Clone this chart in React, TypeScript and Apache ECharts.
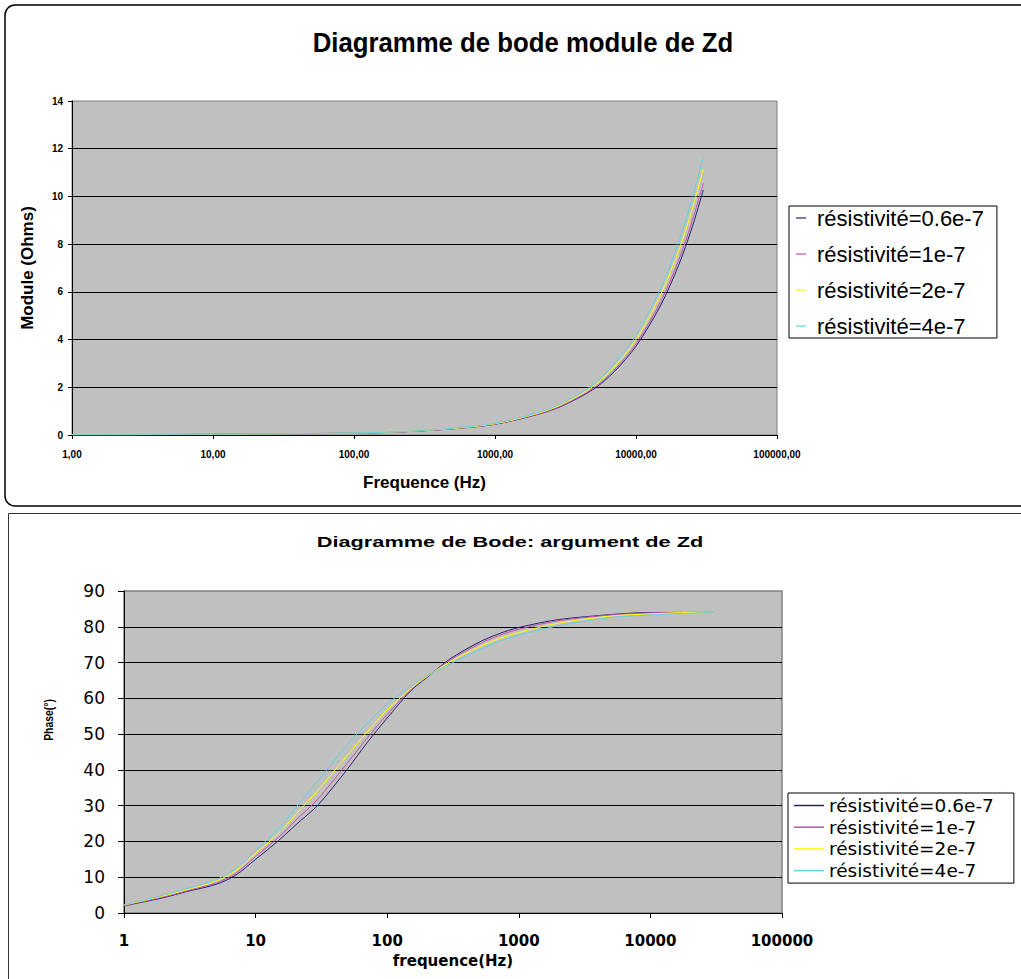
import React, { useEffect, useRef } from 'react';
import * as echarts from 'echarts';

const SERIES_NAMES = ['résistivité=0.6e-7', 'résistivité=1e-7', 'résistivité=2e-7', 'résistivité=4e-7'];
const COLORS = ['#22227a', '#c84fa8', '#ffff00', '#66d0e0'];

// Module |Zd| (Ohms) vs frequency (Hz)
const MOD_FREQ = [1, 2, 5, 10, 20, 50, 100, 200, 500, 1000, 2000, 3000, 5000, 7000, 10000, 15000, 20000, 25000, 30000];
const MOD_R06 = [0.01, 0.01, 0.02, 0.03, 0.04, 0.06, 0.08, 0.12, 0.26, 0.45, 0.86, 1.22, 1.92, 2.65, 3.72, 5.45, 7.1, 8.7, 10.27];
const MOD_R1 = [0.01, 0.01, 0.02, 0.03, 0.04, 0.06, 0.08, 0.12, 0.26, 0.46, 0.87, 1.24, 1.96, 2.72, 3.82, 5.6, 7.3, 8.95, 10.55];
const MOD_R2 = [0.01, 0.01, 0.02, 0.03, 0.04, 0.06, 0.08, 0.13, 0.27, 0.47, 0.9, 1.29, 2.05, 2.85, 4.0, 5.9, 7.7, 9.45, 11.15];
const MOD_R4 = [0.01, 0.01, 0.02, 0.03, 0.04, 0.06, 0.09, 0.13, 0.28, 0.49, 0.93, 1.33, 2.12, 2.97, 4.17, 6.15, 8.05, 9.9, 11.65];

// Phase (deg) vs frequency (Hz)
const PHASE_FREQ = [1, 2, 3, 5, 7, 10, 15, 20, 30, 50, 70, 100, 150, 200, 300, 500, 700, 1000, 2000, 5000, 10000, 20000, 30000];
const PHASE_R06 = [2.0, 4.3, 6.0, 8.0, 10.5, 15.0, 20.3, 24.5, 30.3, 40.3, 47.5, 54.5, 62.0, 65.8, 71.0, 75.7, 78.0, 79.8, 82.0, 83.4, 84.0, 84.0, 84.0];
const PHASE_R1 = [2.1, 4.5, 6.2, 8.4, 11.0, 15.8, 21.2, 25.8, 32.0, 42.0, 48.8, 55.5, 62.3, 66.0, 70.7, 75.2, 77.5, 79.3, 81.7, 83.3, 83.9, 84.0, 84.0];
const PHASE_R2 = [2.2, 4.8, 6.5, 8.9, 11.7, 16.7, 22.3, 27.4, 34.4, 44.2, 50.5, 56.8, 62.6, 66.1, 70.2, 74.4, 76.6, 78.4, 81.0, 83.0, 83.6, 84.0, 84.0];
const PHASE_R4 = [2.3, 5.0, 6.8, 9.3, 12.3, 17.5, 23.7, 29.3, 37.1, 47.1, 52.9, 58.4, 63.3, 66.3, 69.6, 73.5, 75.8, 77.6, 80.3, 82.6, 83.3, 83.8, 84.0];

const MOD_SETS = [MOD_R06, MOD_R1, MOD_R2, MOD_R4];
const PHASE_SETS = [PHASE_R06, PHASE_R1, PHASE_R2, PHASE_R4];

const TOP_TITLE = 'Diagramme de bode module de Zd';
const BOTTOM_TITLE = 'Diagramme de Bode: argument de Zd';

const ARIAL = 'Liberation Sans, Arial, sans-serif';
const WIDE = 'DejaVu Sans, Verdana, sans-serif';

export default function App() {
  const ref = useRef<HTMLDivElement>(null);

  useEffect(() => {
    if (!ref.current) return;
    const chart = echarts.init(ref.current, undefined, { renderer: 'svg' });

    const pair = (xs: number[], ys: number[]) => xs.map((x, i) => [x, ys[i]]);

    const series: any[] = [];
    SERIES_NAMES.forEach((name, i) => {
      series.push({
        name,
        type: 'line',
        xAxisIndex: 0,
        yAxisIndex: 0,
        data: pair(MOD_FREQ, MOD_SETS[i]),
        showSymbol: false,
        smooth: 0.3,
        color: COLORS[i],
        lineStyle: { width: 1, color: COLORS[i] },
      });
    });
    SERIES_NAMES.forEach((name, i) => {
      series.push({
        name,
        type: 'line',
        xAxisIndex: 1,
        yAxisIndex: 1,
        data: pair(PHASE_FREQ, PHASE_SETS[i]),
        showSymbol: false,
        smooth: 0.3,
        color: COLORS[i],
        lineStyle: { width: 1, color: COLORS[i] },
      });
    });

    const option: any = {
      animation: false,
      backgroundColor: '#ffffff',
      graphic: [
        {
          type: 'rect',
          silent: true,
          shape: { x: 5, y: 5, width: 1040, height: 501, r: 10 },
          style: { fill: 'none', stroke: '#000', lineWidth: 1.5 },
        },
        {
          type: 'rect',
          silent: true,
          shape: { x: 8.5, y: 513.5, width: 1040, height: 500 },
          style: { fill: 'none', stroke: '#333', lineWidth: 1 },
        },
        {
          type: 'text',
          silent: true,
          x: 523,
          y: 43,
          scaleX: 0.92,
          style: {
            text: TOP_TITLE,
            fill: '#000',
            font: `bold 28px ${ARIAL}`,
            align: 'center',
            verticalAlign: 'middle',
            textAlign: 'center',
            textVerticalAlign: 'middle',
          },
        },
        {
          type: 'text',
          silent: true,
          x: 510,
          y: 542,
          scaleX: 1.45,
          style: {
            text: BOTTOM_TITLE,
            fill: '#000',
            font: `bold 15px ${ARIAL}`,
            align: 'center',
            verticalAlign: 'middle',
            textAlign: 'center',
            textVerticalAlign: 'middle',
          },
        },
        {
          type: 'text',
          silent: true,
          x: 48,
          y: 720,
          rotation: Math.PI / 2,
          scaleX: 0.8,
          style: {
            text: 'Phase(°)',
            fill: '#000',
            font: `bold 13px ${ARIAL}`,
            align: 'center',
            verticalAlign: 'middle',
            textAlign: 'center',
            textVerticalAlign: 'middle',
          },
        },
      ],
      legend: [
        {
          data: SERIES_NAMES,
          orient: 'vertical',
          left: 789,
          top: 206,
          padding: [1, 13, 1, 7],
          itemGap: 14,
          itemWidth: 10,
          itemHeight: 1.2,
          icon: 'rect',
          borderColor: '#000',
          borderWidth: 1,
          backgroundColor: '#fff',
          selectedMode: false,
          textStyle: { fontFamily: ARIAL, fontSize: 22, lineHeight: 22, color: '#000', padding: [0, 0, 0, 6] },
        },
        {
          data: SERIES_NAMES,
          orient: 'vertical',
          left: 788,
          top: 793,
          padding: [3, 20, 3, 6],
          itemGap: 2.7,
          itemWidth: 30,
          itemHeight: 1.5,
          icon: 'rect',
          borderColor: '#000',
          borderWidth: 1,
          backgroundColor: '#fff',
          selectedMode: false,
          textStyle: { fontFamily: WIDE, fontSize: 18.5, lineHeight: 18, color: '#000' },
        },
      ],
      grid: [
        {
          left: 72,
          top: 101,
          width: 705,
          height: 334,
          show: true,
          backgroundColor: '#c0c0c0',
          borderColor: '#808080',
          borderWidth: 1,
        },
        {
          left: 124,
          top: 591,
          width: 658,
          height: 322,
          show: true,
          backgroundColor: '#c0c0c0',
          borderColor: '#808080',
          borderWidth: 1.5,
        },
      ],
      xAxis: [
        {
          type: 'log',
          logBase: 10,
          gridIndex: 0,
          min: 1,
          max: 100000,
          name: 'Frequence (Hz)',
          nameLocation: 'middle',
          nameGap: 39,
          nameTextStyle: { fontFamily: ARIAL, fontWeight: 'bold', fontSize: 17, color: '#000' },
          axisLine: { show: true, lineStyle: { color: '#000', width: 1 } },
          axisTick: { show: true, length: 4, lineStyle: { color: '#000' } },
          minorTick: { show: false },
          splitLine: { show: false },
          axisLabel: {
            fontFamily: ARIAL,
            fontWeight: 'bold',
            fontSize: 10,
            color: '#000',
            margin: 14,
            formatter: (v: number) => Math.round(v).toFixed(2).replace('.', ','),
          },
        },
        {
          type: 'log',
          logBase: 10,
          gridIndex: 1,
          min: 1,
          max: 100000,
          name: 'frequence(Hz)',
          nameLocation: 'middle',
          nameGap: 40,
          nameTextStyle: { fontFamily: WIDE, fontWeight: 'bold', fontSize: 15, color: '#000' },
          axisLine: { show: true, lineStyle: { color: '#000', width: 1 } },
          axisTick: { show: true, length: 5, lineStyle: { color: '#000' } },
          minorTick: { show: false },
          splitLine: { show: false },
          axisLabel: {
            fontFamily: WIDE,
            fontWeight: 'bold',
            fontSize: 15,
            color: '#000',
            margin: 20,
            formatter: (v: number) => String(Math.round(v)),
          },
        },
      ],
      yAxis: [
        {
          type: 'value',
          gridIndex: 0,
          min: 0,
          max: 14,
          interval: 2,
          name: 'Module (Ohms)',
          nameLocation: 'middle',
          nameGap: 36,
          nameTextStyle: { fontFamily: ARIAL, fontWeight: 'bold', fontSize: 17, color: '#000' },
          axisLine: { show: true, lineStyle: { color: '#000', width: 1 } },
          axisTick: { show: true, length: 4, lineStyle: { color: '#000' } },
          splitLine: { show: true, showMaxLine: false, lineStyle: { color: '#000', width: 1 } },
          axisLabel: { fontFamily: ARIAL, fontWeight: 'bold', fontSize: 10, color: '#000', margin: 9 },
        },
        {
          type: 'value',
          gridIndex: 1,
          min: 0,
          max: 90,
          interval: 10,
          axisLine: { show: true, lineStyle: { color: '#000', width: 1 } },
          axisTick: { show: true, length: 6, lineStyle: { color: '#000' } },
          splitLine: { show: true, showMaxLine: false, lineStyle: { color: '#000', width: 1 } },
          axisLabel: { fontFamily: WIDE, fontSize: 17, color: '#000', margin: 19 },
        },
      ],
      series,
    };

    chart.setOption(option);
    return () => chart.dispose();
  }, []);

  return (
    <div
      ref={ref}
      style={{ position: 'fixed', left: 0, top: 0, width: 1021, height: 979, background: '#fff' }}
    />
  );
}
